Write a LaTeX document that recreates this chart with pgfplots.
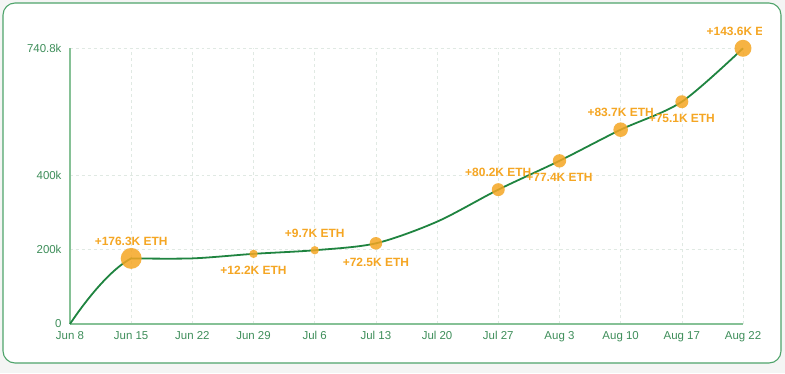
\documentclass[border=0pt]{standalone}
\usepackage{pgfplots}
\pgfplotsset{compat=1.18}
\usepackage{pgfplotstable}
\usepackage{fontspec}
\setmainfont{Liberation Sans}
\definecolor{linegreen}{HTML}{1F8440}
\definecolor{axgreen}{HTML}{86C196}
\definecolor{tickgreen}{HTML}{3E8E5A}
\definecolor{mkorange}{HTML}{F5A623}
\definecolor{gridc}{HTML}{E0E9E3}
\definecolor{cardborder}{HTML}{4FA46B}
\definecolor{bg}{HTML}{F4F5F4}

\pgfplotstableread[col sep=comma]{
x,y
0,0
1,176.3
2,176.3
}\lineA

\pgfplotstableread[col sep=comma]{
x,y
1,176.3
2,176.3
3,188.5
4,198.2
5,216.8
6,275
7,361.0
8,438.4
9,522.1
10,597.2
11,740.8
}\lineB

\pgfplotstableread[col sep=comma]{
x,y,r,dy,lab
1,176.3,10.5,17,+176.3K ETH
3,188.5,4.2,-17,+12.2K ETH
4,198.2,4.2,17,+9.7K ETH
5,216.8,6.3,-19,+72.5K ETH
7,361.0,6.5,17,+80.2K ETH
8,438.4,6.7,-17,+77.4K ETH
9,522.1,7.3,17,+83.7K ETH
10,597.2,6.5,-17,+75.1K ETH
11,740.8,8.5,17,+143.6K ETH
}\markdata

\begin{document}
\begin{tikzpicture}[x=1bp,y=1bp]
\useasboundingbox (0,0) rectangle (785,373);
\fill[bg] (0,0) rectangle (785,373);
\fill[white, rounded corners=12bp] (3,10) rectangle (781,370);
\begin{scope}
\clip (0,0) rectangle (761.5,373);
\begin{axis}[
  at={(70bp,49bp)}, anchor=south west, scale only axis,
  width=673bp, height=275.7bp,
  xmin=0, xmax=11, ymin=0, ymax=740.8,
  axis lines*=left,
  axis line style={axgreen, line width=1.2pt},
  xtick={0,...,11},
  xticklabels={Jun 8,Jun 15,Jun 22,Jun 29,Jul 6,Jul 13,Jul 20,Jul 27,Aug 3,Aug 10,Aug 17,Aug 22},
  ytick={0,200,400,740.8},
  yticklabels={0,200k,400k,740.8k},
  major tick length=0pt,
  xmajorgrids, ymajorgrids,
  grid style={gridc, line width=0.6pt, dash pattern=on 3pt off 3pt},
  tick label style={font=\fontsize{11.5}{13}\selectfont, text=tickgreen},
  xticklabel style={yshift=-4bp},
  yticklabel style={xshift=-5bp},
  clip=false,
]
\begin{scope}
\clip (axis cs:-0.1,-20) rectangle (axis cs:1,300);
\addplot[linegreen, line width=1.8pt, smooth, tension=0.85] table[x=x,y=y] {\lineA};
\end{scope}
\addplot[linegreen, line width=1.8pt, smooth, tension=0.5] table[x=x,y=y] {\lineB};
\addplot[scatter, only marks, mark=*,
  scatter/use mapped color={draw=mkorange, draw opacity=0, fill=mkorange, fill opacity=0.85},
  visualization depends on={\thisrow{r} \as \rad},
  scatter/@pre marker code/.append style={/tikz/mark size=\rad}]
  table[x=x,y=y] {\markdata};
\addplot[draw=none, mark=none,
  nodes near coords, point meta=explicit symbolic,
  visualization depends on={\thisrow{dy} \as \dy},
  every node near coord/.append style={anchor=center, yshift=\dy, inner sep=0pt,
    font=\fontsize{12}{14}\selectfont\bfseries, text=mkorange}]
  table[x=x,y=y,meta=lab] {\markdata};
\end{axis}
\end{scope}
\draw[cardborder, line width=1.1pt, rounded corners=12bp] (3,10) rectangle (781,370);
\end{tikzpicture}
\end{document}
